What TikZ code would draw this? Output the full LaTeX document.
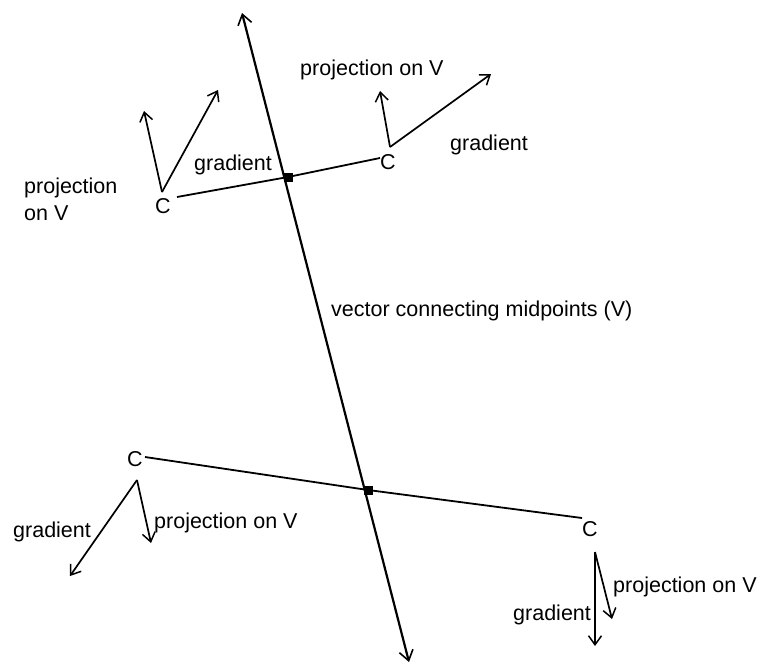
\documentclass[tikz,border=0pt]{standalone}
\usepackage{fontspec}
\setmainfont{Liberation Sans}
\usetikzlibrary{arrows.meta}
\begin{document}
\begin{tikzpicture}[x=1pt,y=-1pt,
  lbl/.style={font=\fontsize{21.5}{24}\selectfont, inner sep=0pt, anchor=base west},
  cnode/.style={font=\fontsize{21.5}{24}\selectfont, inner sep=0pt},
  vec/.style={line width=1.7pt, -{Straight Barb[length=9pt,width=13pt,line width=1.5pt]}},
  seg/.style={line width=1.8pt},
  mainv/.style={line width=2.2pt, {Straight Barb[length=10pt,width=14pt,line width=1.6pt]}-{Straight Barb[length=10pt,width=14pt,line width=1.6pt]}},
  mid/.style={fill=black, minimum size=9pt, inner sep=0pt, draw=none}]
\useasboundingbox (0,0) rectangle (767,667);
% main vector V
\coordinate (vtop) at (242,13);
\coordinate (vbot) at (409,662);
\node[mid] (m1) at (288,177) {};
\node[mid] (m2) at (368,490) {};
\draw[mainv] (vtop) -- (vbot);
% C nodes
\node[cnode] (c1) at (163,206) {C};
\node[cnode] (c2) at (388,162) {C};
\node[cnode] (c3) at (135,459) {C};
\node[cnode] (c4) at (590,529) {C};
% segments
\coordinate (s1) at (177,197);
\coordinate (s2) at (380,158);
\coordinate (s3) at (145,457);
\coordinate (s4) at (582,518);
\draw[seg] (s1) -- (m1.center) -- (s2);
\draw[seg] (s3) -- (m2.center) -- (s4);
% top-left vectors
\coordinate (o1) at (162,192);
\coordinate (p1) at (144,111);
\coordinate (g1) at (218,90);
\draw[vec] (o1) -- (p1);
\draw[vec] (o1) -- (g1);
% top-right vectors
\coordinate (o2) at (390,147);
\coordinate (p2) at (380,91);
\coordinate (g2) at (491,74);
\draw[vec] (o2) -- (p2);
\draw[vec] (o2) -- (g2);
% bottom-left vectors
\coordinate (o3) at (137,480);
\coordinate (p3) at (151,543);
\coordinate (g3) at (70,576);
\draw[vec] (o3) -- (p3);
\draw[vec] (o3) -- (g3);
% bottom-right vectors
\coordinate (o4) at (595,552);
\coordinate (p4) at (612,619);
\coordinate (g4) at (595,646);
\draw[vec] (o4) -- (p4);
\draw[vec] (o4) -- (g4);
% labels
\node[lbl] (t1) at (300,75) {projection on V};
\node[lbl] (t2) at (450,150) {gradient};
\node[lbl] (t3) at (194,170) {gradient};
\node[lbl] (t4) at (24,193) {projection};
\node[lbl] (t5) at (24,220) {on V};
\node[lbl] (t6) at (331,316) {vector connecting midpoints (V)};
\node[lbl] (t7) at (13,537) {gradient};
\node[lbl] (t8) at (154,528) {projection on V};
\node[lbl] (t9) at (613,592) {projection on V};
\node[lbl] (t10) at (513,620) {gradient};
\end{tikzpicture}
\end{document}
